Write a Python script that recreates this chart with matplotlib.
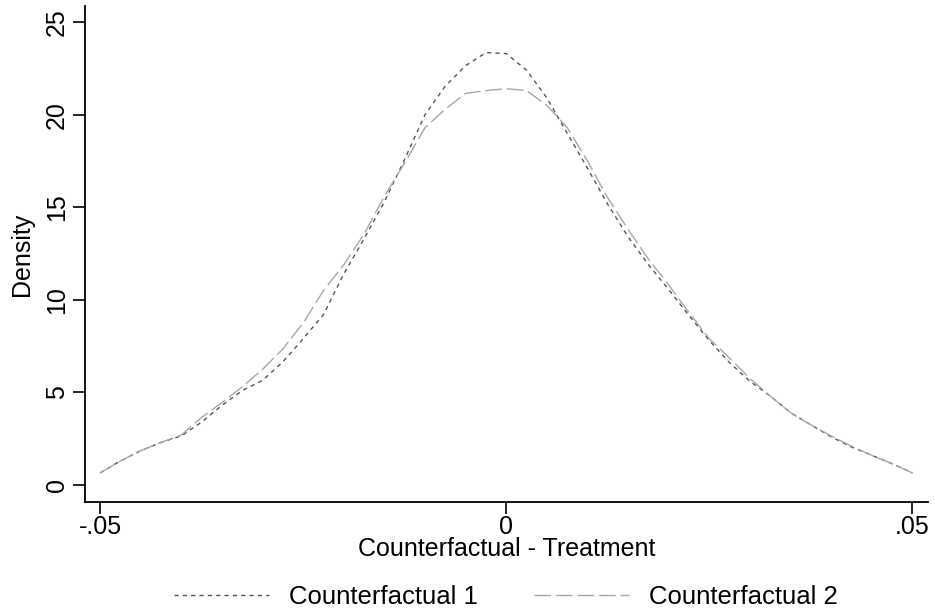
import matplotlib
matplotlib.use("Agg")
import matplotlib.pyplot as plt
import numpy as np

# kernel density estimates on a grid of 0.0025
grid = np.linspace(-0.05, 0.05, 41)
density_cf1 = [0.65, 1.3, 1.85, 2.3, 2.65, 3.4, 4.3, 5.1, 5.65, 6.65,
               7.9, 9.2, 11.4, 13.3, 15.3, 17.6, 20.0, 21.55, 22.65, 23.35,
               23.3, 22.4, 20.9, 19.0, 17.1, 15.15, 13.4, 11.9, 10.55, 9.15,
               7.8, 6.6, 5.6, 4.8, 3.9, 3.25, 2.6, 2.05, 1.6, 1.15, 0.65]
density_cf2 = [0.65, 1.3, 1.85, 2.3, 2.7, 3.65, 4.45, 5.3, 6.25, 7.35,
               8.75, 10.5, 11.9, 13.55, 15.6, 17.4, 19.3, 20.3, 21.15, 21.3,
               21.4, 21.3, 20.5, 19.3, 17.5, 15.5, 13.8, 12.2, 10.8, 9.3,
               7.9, 6.85, 5.75, 4.8, 3.9, 3.25, 2.65, 2.1, 1.6, 1.15, 0.65]
xticks = [-0.05, 0, 0.05]
xticklabels = ["-.05", "0", ".05"]
yticks = [0, 5, 10, 15, 20, 25]

plt.rcParams["font.family"] = ["Liberation Sans", "DejaVu Sans"]

fig = plt.figure(figsize=(9.35, 6.15), dpi=100)
ax = fig.add_axes([0.091, 0.184, 0.902, 0.806])

ax.plot(grid, density_cf1, color="#555555", lw=1.0, dashes=(3, 3),
        label="Counterfactual 1")
ax.plot(grid, density_cf2, color="#a8a8a8", lw=1.0, dashes=(12, 3.5),
        label="Counterfactual 2")

ax.set_xlim(-0.05185, 0.05197)
ax.set_ylim(-0.91, 25.86)
ax.set_xticks(xticks)
ax.set_xticklabels(xticklabels)
ax.set_yticks(yticks)
ax.tick_params(axis="both", direction="out", length=8.5, width=1.2,
               labelsize=18, colors="black")
ax.tick_params(axis="x", pad=1)
ax.tick_params(axis="y", pad=3)
for lbl in ax.get_yticklabels():
    lbl.set_rotation(90)
    lbl.set_va("center")

for side in ("top", "right"):
    ax.spines[side].set_visible(False)
for side in ("left", "bottom"):
    ax.spines[side].set_linewidth(1.3)

ax.set_xlabel("Counterfactual - Treatment", fontsize=18)
ax.xaxis.set_label_coords(0.5, -0.071)
ax.set_ylabel("Density", fontsize=18)
ax.yaxis.set_label_coords(-0.061, 0.5)

fig.legend(loc="center", bbox_to_anchor=(0.541, 0.03), ncol=2,
           frameon=False, fontsize=18.5, handlelength=3.7,
           columnspacing=2.2, handletextpad=0.75)

fig.savefig("out.png", dpi=100, facecolor="white")
